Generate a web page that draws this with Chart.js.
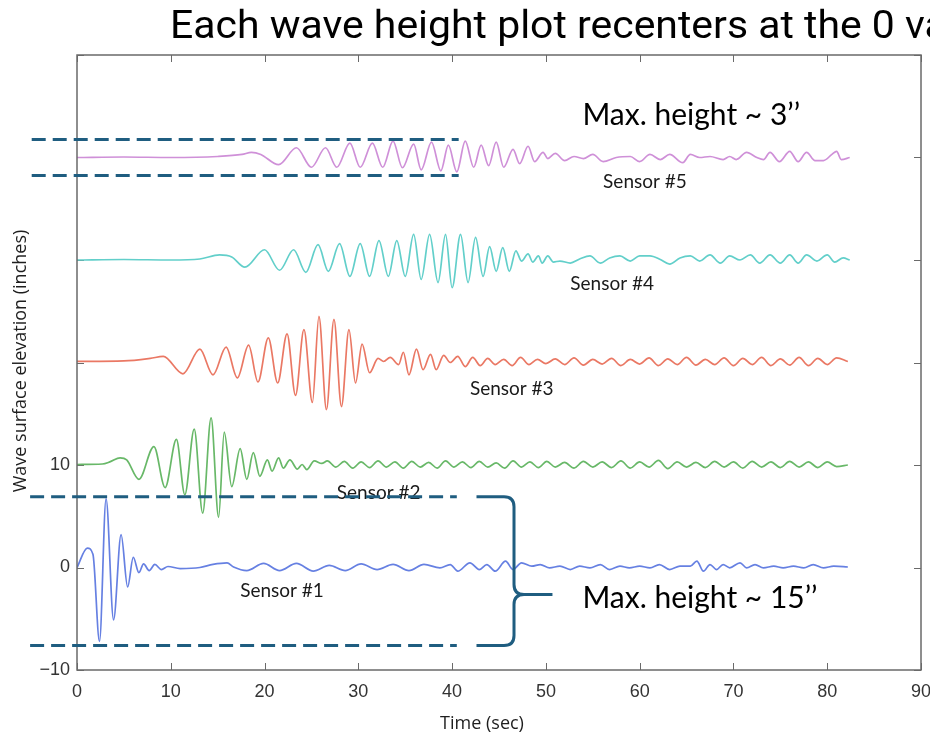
<!DOCTYPE html>
<html><head><meta charset="utf-8">
<script src="https://cdn.jsdelivr.net/npm/chart.js@4"></script>
<style>html,body{margin:0;padding:0;background:#fff;overflow:hidden}canvas{display:block}</style>
</head><body>
<canvas id="c" width="930" height="738"></canvas>
<script>
// ---------- data (time in s, elevation in inches, each sensor offset by 10) ----------
const sensor1 = [[0,0],[1.1,1.9],[1.7,1.3],[2.4,-7.2],[3.1,6.7],[3.9,-5.1],[4.7,3.2],[5.4,-1.9],[6.0,1.0],[6.6,-0.5],[7.1,0.35],[7.7,-0.3],[8.3,0.3],[9.0,-0.2],[9.7,0.1],[11.0,-0.1],[13.1,0],[14.5,0.3],[16.0,0.45],[16.7,0.05],[18.1,-0.3],[19.9,0.4],[21.6,-0.3],[23.4,0.4],[25.2,-0.35],[26.9,0.2],[28.6,-0.3],[30.3,0.35],[32.0,-0.2],[33.7,0.3],[35.4,-0.3],[37.0,0.3],[38.7,-0.03],[39.8,0.29],[40.6,-0.36],[41.9,0.46],[42.9,-0.2],[43.7,0.29],[44.6,-0.36],[45.7,0.62],[46.5,-0.2],[47.4,0.46],[48.5,0.13],[49.4,0.29],[50.4,-0.03],[51.5,0.13],[52.6,-0.2],[53.6,0.13],[54.7,-0.03],[55.8,0.29],[56.8,-0.2],[57.9,0.13],[58.9,-0.03],[60.0,0.13],[61.1,-0.03],[62.1,0.29],[63.2,-0.2],[64.3,0.13],[65.4,0.13],[66.1,0.62],[66.8,-0.36],[67.5,0.29],[68.2,-0.2],[68.9,0.29],[69.6,-0.03],[70.7,0.46],[71.4,-0.03],[72.3,0.29],[73.2,-0.03],[74.3,0.13],[75.3,-0.03],[76.4,0.13],[77.5,-0.03],[78.5,0.29],[79.6,-0.03],[80.7,0.13],[82.2,0.05]];
const sensor2 = [[0,10.05],[2.7,10.1],[3.5,10.3],[4.6,10.7],[5.3,10.5],[6.6,8.6],[8.2,11.8],[9.4,7.8],[10.6,12.5],[11.5,7.1],[12.5,13.5],[13.4,5.3],[14.3,14.6],[15.1,4.9],[15.7,13.2],[16.5,7.9],[17.4,11.6],[18.1,8.6],[18.8,11.2],[19.5,8.9],[20.3,10.5],[20.8,9.4],[21.5,10.7],[22.0,9.7],[22.7,10.5],[23.5,9.6],[24.0,10.05],[24.5,9.55],[25.3,10.4],[26.1,10.15],[26.7,10.4],[27.6,9.8],[28.5,10.35],[29.4,9.7],[30.3,10.3],[31.2,9.75],[32.1,10.4],[33.0,9.8],[33.9,10.3],[34.8,9.7],[35.7,10.35],[36.6,9.8],[37.5,10.25],[38.4,9.7],[39.3,10.4],[40.2,9.8],[41.1,10.3],[42.0,9.75],[42.9,10.35],[43.8,9.8],[44.7,10.2],[45.6,9.7],[46.5,10.4],[47.4,9.8],[48.3,10.3],[49.2,9.75],[50.1,10.35],[51.0,9.8],[52.0,10.25],[53.0,9.7],[54.0,10.35],[55.0,9.8],[56.0,10.3],[57.0,9.75],[58.0,10.4],[59.0,9.7],[60.0,10.3],[61.0,9.8],[62.0,10.45],[63.0,9.65],[64.0,10.3],[65.0,9.8],[66.0,10.25],[67.0,9.75],[68.0,10.35],[69.0,9.8],[70.0,10.3],[71.0,9.7],[72.0,10.35],[73.0,9.8],[74.0,10.3],[75.0,9.75],[76.0,10.35],[77.0,9.8],[78.0,10.3],[79.0,9.75],[80.0,10.3],[81.0,9.85],[82.2,10.0]];
const sensor3 = [[0,20.1],[5,20.15],[7.8,20.4],[9.2,20.6],[11.3,18.9],[13.1,21.3],[14.5,18.8],[15.9,21.5],[17.1,18.5],[18.3,21.7],[19.3,18.1],[20.4,22.4],[21.4,18.0],[22.4,22.8],[23.3,16.8],[24.2,23.2],[25.1,16.1],[25.8,24.5],[26.6,15.4],[27.4,24.2],[28.2,15.7],[29.0,23.2],[29.7,18.0],[30.4,21.8],[31.2,19.0],[32.1,20.4],[32.7,20.1],[33.4,20.5],[34.3,19.8],[34.8,21.0],[35.4,18.8],[36.2,21.3],[36.9,19.3],[37.7,20.8],[38.3,19.3],[39.1,20.7],[39.8,20.0],[40.6,20.6],[41.4,19.6],[42.2,20.5],[43.0,19.7],[43.8,20.4],[44.6,19.8],[45.5,20.3],[46.4,19.7],[47.3,20.5],[48.2,19.8],[49.1,20.3],[50.0,19.9],[51.0,20.35],[52.0,19.8],[53.0,20.45],[54.0,19.75],[55.0,20.3],[56.0,19.85],[57.0,20.4],[58.0,19.7],[59.0,20.3],[60.0,19.85],[61.0,20.45],[62.0,19.7],[63.0,20.35],[64.0,19.8],[65.0,20.5],[66.0,19.75],[67.0,20.3],[68.0,19.8],[69.0,20.45],[70.0,19.7],[71.0,20.4],[72.0,19.8],[73.0,20.5],[74.0,19.7],[75.0,20.35],[76.0,19.75],[77.0,20.5],[78.0,19.7],[79.0,20.4],[80.0,19.8],[81.0,20.45],[82.2,20.1]];
const sensor4 = [[0,30],[5,30.05],[10,30.0],[13.1,30.1],[15.2,30.5],[16.5,30.3],[17.9,29.3],[20.0,31.0],[21.6,29.0],[23.1,31.0],[24.4,28.8],[25.7,31.5],[26.8,28.9],[28.0,31.6],[29.1,28.4],[30.2,31.6],[31.2,28.4],[32.2,31.9],[33.2,28.4],[34.1,31.9],[35.0,28.4],[35.9,32.5],[36.7,28.1],[37.6,32.5],[38.5,27.8],[39.3,32.5],[40.0,27.3],[40.9,32.5],[41.7,27.8],[42.5,32.2],[43.3,28.4],[44.0,31.3],[44.7,28.9],[45.4,31.2],[46.1,28.9],[46.8,30.9],[47.4,29.9],[48.1,30.6],[48.6,29.8],[49.2,30.4],[49.6,29.7],[50.2,30.4],[50.8,29.8],[51.5,29.9],[52.6,29.7],[53.6,30.1],[54.7,30.4],[55.8,29.7],[56.8,30.2],[57.9,30.4],[59.0,29.9],[60.0,30.4],[61.1,30.4],[62.2,30.05],[63.2,29.6],[64.3,30.2],[65.4,30.4],[66.4,29.9],[67.5,30.5],[68.6,29.7],[69.6,30.4],[70.7,30.0],[71.8,30.5],[72.8,29.7],[73.9,30.5],[75.0,29.7],[76.0,30.5],[76.9,29.7],[77.8,30.5],[78.9,29.9],[80.0,30.5],[80.8,29.8],[81.7,30.2],[82.4,30.0]];
const sensor5 = [[0,40],[5,40.05],[10,40.0],[15,40.1],[17.6,40.3],[18.6,40.5],[19.6,40.3],[21.5,39.3],[23.4,40.95],[25.0,39.05],[26.5,40.95],[27.7,39.05],[29.1,41.4],[30.2,39.05],[31.5,41.4],[32.6,39.05],[33.7,41.6],[34.7,39.0],[35.9,41.3],[36.7,38.8],[37.8,41.5],[38.8,38.7],[39.6,41.2],[40.5,38.6],[41.4,41.6],[42.3,39.05],[43.1,41.2],[43.9,39.2],[44.7,41.5],[45.5,39.05],[46.5,40.8],[47.2,39.4],[48.1,41.1],[48.8,39.6],[49.7,40.5],[50.2,39.9],[51.0,40.4],[52.0,39.7],[53.0,40.1],[54.0,39.9],[55.0,40.3],[56.1,39.6],[57.5,40.0],[59.0,40.1],[60.0,39.6],[61.1,40.3],[62.2,39.8],[63.2,40.3],[64.6,39.5],[65.4,40.3],[66.4,40.0],[67.5,40.1],[68.9,39.8],[69.6,40.1],[70.3,39.8],[71.4,40.5],[72.5,40.0],[73.2,39.8],[73.9,40.5],[74.9,39.6],[76.0,40.6],[76.9,39.6],[77.8,40.5],[78.7,39.7],[79.6,39.7],[80.5,40.3],[81.0,40.6],[81.5,39.8],[82.4,40.0]];

const sensorSeries = [sensor1, sensor2, sensor3, sensor4, sensor5];
const sensorNames = ['Sensor #1','Sensor #2','Sensor #3','Sensor #4','Sensor #5'];
const sensorColors = ['#6680e2','#68b868','#ea7864','#62cfca','#cf90d8'];
const sensorLabelAt = [[17.4,-2.3],[27.7,7.3],[41.9,17.4],[52.6,27.7],[56.1,37.6]];

const xTickValues = [0,10,20,30,40,50,60,70,80,90];
const yTickLabels = {'-10':'\u221210','0':'0','10':'10'};

const titleText = 'Each wave height plot recenters at the 0 value';
const xTitle = 'Time (sec)';
const yTitle = 'Wave surface elevation (inches)';

// annotation overlay (data coordinates)
const dashedBands = [[41.76,-4.83,40.7],[38.24,-4.83,40.7],[6.9,-5.0,40.5],[-7.6,-5.0,40.5]];
const braceShape = {x0:42.6, x1:46.6, tip:50.7, top:6.9, bottom:-7.6, mid:-2.63};
const notes = [['Max. height ~ 3\u2019\u2019',53.9,44.1],['Max. height ~ 15\u2019\u2019',53.9,-2.98]];

const AX = '#6a6a6a';

const overlay = {
  id:'overlay',
  beforeDatasetsDraw(chart){
    const {ctx, chartArea:a, scales:{x,y}} = chart;
    ctx.save();
    ctx.strokeStyle = AX; ctx.lineWidth = 1;
    ctx.beginPath();
    xTickValues.forEach(v=>{const p=Math.round(x.getPixelForValue(v))+0.5;
      ctx.moveTo(p,a.bottom); ctx.lineTo(p,a.bottom-7);
      ctx.moveTo(p,a.top); ctx.lineTo(p,a.top+7);});
    y.ticks.forEach(t=>{const p=Math.round(y.getPixelForValue(t.value))+0.5;
      ctx.moveTo(a.left,p); ctx.lineTo(a.left+7,p);
      ctx.moveTo(a.right,p); ctx.lineTo(a.right-7,p);});
    ctx.stroke();
    ctx.restore();
  },
  afterDraw(chart){
    const {ctx, chartArea:a, scales:{x,y}} = chart;
    ctx.save();
    // frame
    ctx.strokeStyle = AX; ctx.lineWidth = 1.5;
    ctx.strokeRect(a.left, a.top, a.right-a.left, a.bottom-a.top);
    // sensor labels
    ctx.fillStyle = '#1a1a1a';
    ctx.font = '19px Lato';
    ctx.textAlign='left'; ctx.textBaseline='middle';
    sensorNames.forEach((n,i)=>ctx.fillText(n, x.getPixelForValue(sensorLabelAt[i][0]), y.getPixelForValue(sensorLabelAt[i][1])));
    // axis titles
    ctx.fillStyle = '#1e1e1e';
    ctx.font = '18px "Open Sans"';
    ctx.textAlign='center';
    ctx.fillText(xTitle, 482, 724);
    ctx.save(); ctx.translate(21, 361); ctx.rotate(-Math.PI/2);
    ctx.fillText(yTitle, 0, 0); ctx.restore();
    // dashed bands
    ctx.strokeStyle = '#1f5d80'; ctx.lineWidth = 3; ctx.setLineDash([14,7]);
    ctx.beginPath();
    dashedBands.forEach(([v,x0,x1])=>{const p=y.getPixelForValue(v);
      ctx.moveTo(x.getPixelForValue(x0),p); ctx.lineTo(x.getPixelForValue(x1),p);});
    ctx.stroke();
    // brace
    ctx.setLineDash([]);
    const b = braceShape, r = 10;
    const X0=x.getPixelForValue(b.x0), X1=x.getPixelForValue(b.x1), XT=x.getPixelForValue(b.tip);
    const YT=y.getPixelForValue(b.top), YB=y.getPixelForValue(b.bottom), YM=y.getPixelForValue(b.mid);
    ctx.beginPath();
    ctx.moveTo(X0,YT); ctx.lineTo(X1-r,YT); ctx.quadraticCurveTo(X1,YT,X1,YT+r);
    ctx.lineTo(X1,YM-r); ctx.quadraticCurveTo(X1,YM,X1+r,YM); ctx.lineTo(XT,YM);
    ctx.moveTo(X1+r,YM); ctx.quadraticCurveTo(X1,YM,X1,YM+r);
    ctx.lineTo(X1,YB-r); ctx.quadraticCurveTo(X1,YB,X1-r,YB); ctx.lineTo(X0,YB);
    ctx.stroke();
    // notes
    ctx.fillStyle = '#000'; ctx.font = '30px Lato'; ctx.textAlign='left'; ctx.textBaseline='middle';
    notes.forEach(([t,vx,vy])=>ctx.fillText(t, x.getPixelForValue(vx), y.getPixelForValue(vy)));
    // title (condensed look)
    ctx.font = '38px Roboto'; ctx.textBaseline='alphabetic';
    const w = ctx.measureText('Each wave height plot recenters at the 0 ').width;
    ctx.save(); ctx.translate(170, 38); ctx.scale(735 / w, 1);
    ctx.fillText(titleText, 0, 0); ctx.restore();
    ctx.restore();
  }
};

new Chart(document.getElementById('c'), {
  type:'scatter',
  data:{ datasets: sensorSeries.map((s,i)=>({
    label: sensorNames[i],
    data: s.map(([t,v])=>({x:t,y:v})),
    showLine:true, borderColor:sensorColors[i], backgroundColor:sensorColors[i],
    borderWidth:1.7, pointRadius:0, cubicInterpolationMode:'monotone'
  }))},
  options:{
    responsive:false, animation:false, devicePixelRatio:1,
    layout:{padding:{top:55,right:9,left:0,bottom:0}},
    plugins:{legend:{display:false}, tooltip:{enabled:false}},
    scales:{
      x:{type:'linear', min:0, max:90,
        afterBuildTicks(s){s.ticks = xTickValues.map(v=>({value:v}));},
        grid:{display:false, drawTicks:false}, border:{display:false},
        ticks:{autoSkip:false, maxRotation:0, padding:11, color:'#333', font:{family:'Liberation Sans', size:18}},
        afterFit(s){s.height = 68; s.paddingLeft=0; s.paddingRight=0;}
      },
      y:{type:'linear', min:-10, max:50,
        ticks:{stepSize:10, autoSkip:false, padding:7, color:'#333', font:{family:'Liberation Sans', size:18},
          callback:(v)=> (yTickLabels[String(v)] ?? '')},
        grid:{display:false, drawTicks:false}, border:{display:false},
        afterFit(s){s.width = 77; s.paddingTop=0; s.paddingBottom=0;}
      }
    }
  },
  plugins:[overlay]
});
</script>
</body></html>
